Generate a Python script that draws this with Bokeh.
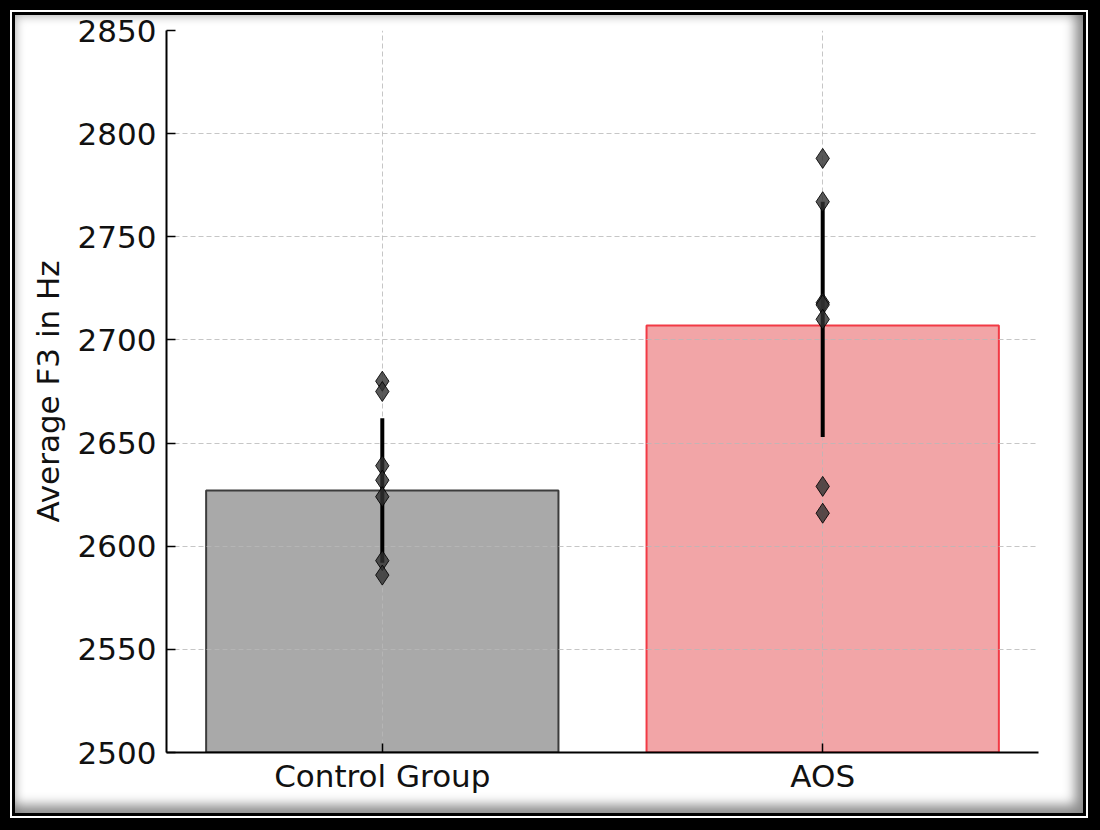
from bokeh.plotting import figure
from bokeh.models import FixedTicker, Range1d
from bokeh.embed import file_html
from bokeh.resources import INLINE

# ---- data ----
categories = ["Control Group", "AOS"]
mean_f3 = [2627, 2707]
err_low = [2592, 2653]
err_high = [2662, 2767]
control_values = [2680, 2675, 2639, 2632, 2624, 2593, 2586]
aos_values = [2788, 2767, 2718, 2717, 2710, 2629, 2616]
y_ticks = [2500, 2550, 2600, 2650, 2700, 2750, 2800, 2850]

# ---- styles ----
bar_fill = ["#a9a9a9", "#f2a5a7"]
bar_edge = ["#3c3c3c", "#f23a45"]
FONT = "DejaVu Sans"
FS = "31px"

W, H = 1100, 830
xs = list(range(len(categories)))

p = figure(width=W, height=H, output_backend="svg", toolbar_location=None,
           x_range=Range1d(-0.49, 1.49), y_range=Range1d(y_ticks[0], y_ticks[-1]),
           min_border_left=166, min_border_right=62, min_border_top=30,
           min_border_bottom=78)
p.outline_line_color = None
p.background_fill_color = "white"
p.border_fill_color = None
# decorative double frame with inner shadow, drawn by CSS behind the
# transparent border area of the canvas
p.styles = {
    "background-color": "white",
    "box-shadow": ", ".join([
        "inset -1px -1px 0 11px black",
        "inset -1px -1px 0 13px white",
        "inset -1px -1px 0 16px black",
        "inset -7px -7px 12px 18px rgba(0,0,0,0.45)",
        "inset 3px 3px 10px 15px rgba(0,0,0,0.12)",
    ]),
}

# bars (below grid)
p.vbar(x=xs, top=mean_f3, bottom=0, width=0.8, fill_color=bar_fill,
       line_color=bar_edge, line_width=2, level="image")

# error bars
p.segment(x0=xs, y0=err_low, x1=xs, y1=err_high, line_width=4,
          line_color="black")

# individual points
p.scatter(x=[xs[0]] * len(control_values), y=control_values, marker="diamond",
          size=20, fill_color="#303030", fill_alpha=0.8, line_color="black",
          line_alpha=0.85, line_width=1)
p.scatter(x=[xs[1]] * len(aos_values), y=aos_values, marker="diamond",
          size=20, fill_color="#303030", fill_alpha=0.8, line_color="black",
          line_alpha=0.85, line_width=1)

# grids
for g in (p.xgrid, p.ygrid):
    g.grid_line_color = "#b8b8b8"
    g.grid_line_alpha = 0.8
    g.grid_line_dash = "5 3"
    g.grid_line_width = 1
p.xgrid.ticker = FixedTicker(ticks=xs)
p.ygrid.ticker = FixedTicker(ticks=y_ticks)

# axes
p.xaxis.ticker = FixedTicker(ticks=xs)
p.xaxis.major_label_overrides = {i: c for i, c in enumerate(categories)}
p.yaxis.ticker = FixedTicker(ticks=y_ticks)
for ax in (p.xaxis, p.yaxis):
    ax.axis_line_color = "black"
    ax.axis_line_width = 2
    ax.major_tick_line_color = "black"
    ax.major_tick_line_width = 1.5
    ax.major_tick_in = 9
    ax.major_tick_out = 0
    ax.minor_tick_line_color = None
    ax.major_label_text_font = FONT
    ax.major_label_text_font_size = FS
    ax.major_label_text_color = "#111111"
p.yaxis.major_label_standoff = 10
p.xaxis.major_label_standoff = 5
p.yaxis.axis_label = "Average F3 in Hz"
p.yaxis.axis_label_text_font = FONT
p.yaxis.axis_label_text_font_size = FS
p.yaxis.axis_label_text_font_style = "normal"
p.yaxis.axis_label_text_color = "#111111"
p.yaxis.axis_label_standoff = 9

open("out.html", "w").write(file_html(p, INLINE))
